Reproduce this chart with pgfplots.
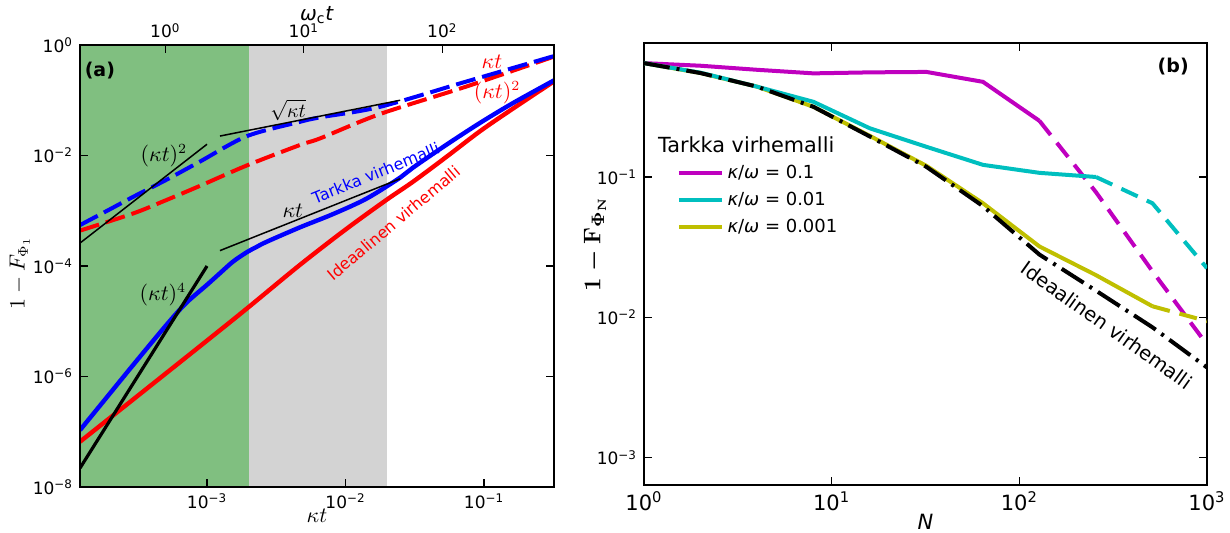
\documentclass[border=0pt]{standalone}
\usepackage{fontspec}
\setmainfont{DejaVu Sans}
\setsansfont{DejaVu Sans}
\usepackage{pgfplots}
\pgfplotsset{compat=1.18}

\definecolor{mpgreen}{RGB}{128,191,128}
\definecolor{mpgray}{RGB}{211,211,211}
\definecolor{mpmag}{RGB}{191,0,191}
\definecolor{mpcyan}{RGB}{0,191,191}
\definecolor{mpyel}{RGB}{191,191,0}

% matplotlib-like log tick labels, set in DejaVu Sans
\newcommand\logtick[1]{\pgfmathtruncatemacro\myexp{round(#1)}%
  \ifnum\myexp<0 10\textsuperscript{−\the\numexpr-\myexp\relax}\else 10\textsuperscript{\myexp}\fi}

\pgfplotsset{every axis/.append style={scale only axis,
    tick align=inside, axis line style={line width=0.7pt},
    major tick style={line width=0.6pt, black}, minor tick style={line width=0.5pt, black},
    major tick length=4pt, minor tick length=2pt,
    ticklabel style={font=\fontsize{8.5}{10}\selectfont},
    label style={font=\fontsize{10.5}{12}\selectfont}}}

\begin{document}
\begin{tikzpicture}
\useasboundingbox (0,0) rectangle (615pt,-266.5pt);

% ---------------- panel (a) ----------------
\begin{axis}[xmode=log, ymode=log, log basis x=10, log basis y=10,
  at={(40pt,-22.5pt)}, anchor=north west, width=237pt, height=221pt,
  xmin=1.21e-4, xmax=0.32, ymin=1e-8, ymax=1,
  xtick={1e-3,1e-2,1e-1}, ytick={1e-8,1e-6,1e-4,1e-2,1}, yminorticks=false,
  xticklabel={\logtick{\tick}}, yticklabel={\logtick{\tick}},
  xtick pos=left, xticklabel pos=left,
  xlabel={$\kappa t$}, ylabel={$1-F_{\Phi_1}$},
  xlabel style={at={(axis description cs:0.5,0)}, anchor=center, yshift=-14.5pt},
  ylabel style={at={(axis description cs:-0.127,0.484)}, anchor=center},
  axis on top]
\addplot[fill=mpgreen, draw=none, forget plot] coordinates {(1.21e-4,1e-8) (2e-3,1e-8) (2e-3,1) (1.21e-4,1)};
\addplot[fill=mpgray, draw=none, forget plot] coordinates {(2e-3,1e-8) (2e-2,1e-8) (2e-2,1) (2e-3,1)};
% dashed curves
\addplot[red, line width=2pt, dash pattern=on 10pt off 3.5pt, smooth] coordinates {
 (1.21e-4,4.37e-4) (2.92e-4,8.91e-4) (4.83e-4,1.48e-3) (8.89e-4,2.82e-3) (1.94e-3,6.61e-3)
 (4.69e-3,1.55e-2) (6.55e-3,2.04e-2) (1.77e-2,5.62e-2) (7.50e-2,0.178) (0.320,0.617)};
\addplot[blue, line width=2pt, dash pattern=on 10pt off 3.5pt, smooth] coordinates {
 (1.21e-4,5.50e-4) (2.0e-4,1.07e-3) (2.92e-4,1.78e-3) (5.0e-4,3.55e-3) (8.89e-4,7.76e-3)
 (1.94e-3,2.24e-2) (4.69e-3,4.07e-2) (6.55e-3,4.90e-2) (1.77e-2,7.59e-2) (7.50e-2,0.219) (0.320,0.631)};
% solid curves
\addplot[red, line width=2.2pt, smooth] coordinates {
 (1.21e-4,6.61e-8) (3.16e-4,4.47e-7) (1e-3,4.47e-6) (1.94e-3,1.70e-5) (4.69e-3,1.05e-4)
 (1e-2,4.57e-4) (1.98e-2,1.58e-3) (3.09e-2,3.39e-3) (5.38e-2,9.55e-3) (9.35e-2,2.75e-2)
 (0.162,7.08e-2) (0.320,0.220)};
\addplot[blue, line width=2.2pt, smooth] coordinates {
 (1.21e-4,1.07e-7) (2.0e-4,5.01e-7) (3.0e-4,1.74e-6) (5.0e-4,8.13e-6) (7.0e-4,2.09e-5)
 (1e-3,4.57e-5) (1.24e-3,7.41e-5) (1.54e-3,1.20e-4) (1.94e-3,1.78e-4) (2.26e-3,2.19e-4) (2.70e-3,2.75e-4)
 (4.69e-3,5.01e-4) (8.13e-3,8.71e-4) (1.42e-2,1.66e-3) (2.48e-2,3.98e-3) (3.07e-2,6.03e-3)
 (5.38e-2,1.58e-2) (9.35e-2,3.89e-2) (0.162,8.91e-2) (0.320,0.229)};
% asymptotes
\addplot[black, line width=0.75pt] coordinates {(1.21e-4,2.6e-4) (1e-3,1.6e-2)};
\addplot[black, line width=1.6pt] coordinates {(1.21e-4,2.2e-8) (1e-3,1.0e-4)};
\addplot[black, line width=0.75pt] coordinates {(1.24e-3,2.25e-2) (2.48e-2,1.0e-1)};
\addplot[black, line width=0.75pt] coordinates {(1.24e-3,1.9e-4) (2.48e-2,3.8e-3)};
% annotations
\node[font=\fontsize{9.5}{11}\selectfont\bfseries] at (rel axis cs:0.042,0.943) {(a)};
\node[font=\fontsize{10.5}{12}\selectfont] at (rel axis cs:0.177,0.750) {$(\kappa t)^2$};
\node[font=\fontsize{10.5}{12}\selectfont] at (rel axis cs:0.175,0.435) {$(\kappa t)^4$};
\node[font=\fontsize{10}{12}\selectfont] at (rel axis cs:0.439,0.853) {$\sqrt{\kappa t}$};
\node[font=\fontsize{10.5}{12}\selectfont] at (rel axis cs:0.449,0.626) {$\kappa t$};
\node[font=\fontsize{10.5}{12}\selectfont, text=red] at (rel axis cs:0.869,0.962) {$\kappa t$};
\node[font=\fontsize{10.5}{12}\selectfont, text=red] at (rel axis cs:0.880,0.893) {$(\kappa t)^2$};
\node[font=\fontsize{8}{10}\selectfont, text=blue, rotate=22] at (rel axis cs:0.624,0.710) {Tarkka virhemalli};
\node[font=\fontsize{8}{10}\selectfont, text=red, rotate=40] at (rel axis cs:0.662,0.597) {Ideaalinen virhemalli};
\end{axis}

% top axis in omega_c t
\begin{axis}[xmode=log, log basis x=10, at={(40pt,-22.5pt)}, anchor=north west, width=237pt, height=221pt,
  xmin=0.242, xmax=640, ymin=0, ymax=1,
  axis x line*=top, axis y line=none, tick align=inside,
  xtick={1,10,100}, xticklabel={\logtick{\tick}},
  xlabel={\textit{ω}\textsubscript{c}\textit{t}},
  xlabel style={at={(axis description cs:0.5,1)}, anchor=center, yshift=15pt, font=\fontsize{10}{12}\selectfont}]
\addplot[draw=none, forget plot] coordinates {(1,0.5) (10,0.5)};
\end{axis}

% ---------------- panel (b) ----------------
\begin{axis}[xmode=log, ymode=log, log basis x=10, log basis y=10,
  at={(322pt,-21.5pt)}, anchor=north west, width=281.5pt, height=221pt,
  xmin=1, xmax=1000, ymin=6.4e-4, ymax=0.9,
  xtick={1,10,100,1000}, ytick={1e-3,1e-2,1e-1}, yminorticks=false,
  xticklabel={\logtick{\tick}}, yticklabel={\logtick{\tick}},
  xticklabel style={font=\fontsize{10.5}{12}\selectfont},
  xlabel={\textit{N}},
  xlabel style={at={(axis description cs:0.5,0)}, anchor=center, yshift=-18.5pt},
  ylabel={$1-\mathbf{F}_{\mathbf{\Phi}_{\mathbf{N}}}$},
  ylabel style={at={(axis description cs:-0.087,0.545)}, anchor=center, font=\fontsize{12.5}{14}\selectfont\boldmath},
  legend cell align=left,
  legend image post style={xscale=1.25},
  legend style={draw=none, fill=none, at={(0.047,0.743)}, anchor=north west,
    font=\fontsize{9}{11}\selectfont, row sep=1.4pt}]
\addlegendimage{mpmag, line width=2pt}
\addlegendentry{\textit{κ}/\textit{ω} = 0.1}
\addlegendimage{mpcyan, line width=2pt}
\addlegendentry{\textit{κ}/\textit{ω} = 0.01}
\addlegendimage{mpyel, line width=2pt}
\addlegendentry{\textit{κ}/\textit{ω} = 0.001}
% kappa/omega = 0.1
\addplot[mpmag, line width=2pt, forget plot] coordinates {
 (1,0.647) (2,0.62) (4,0.58) (8,0.547) (16,0.556) (32,0.56) (64,0.476) (128,0.251)};
\addplot[mpmag, line width=2pt, dash pattern=on 9pt off 5pt, forget plot] coordinates {
 (128,0.251) (256,0.078) (512,0.0213) (1000,0.0064)};
% kappa/omega = 0.001
\addplot[mpyel, line width=2pt, forget plot] coordinates {
 (1,0.647) (2,0.55) (4,0.44) (8,0.316) (16,0.196) (32,0.12) (64,0.065) (128,0.032) (256,0.020) (512,0.012)};
\addplot[mpyel, line width=2pt, dash pattern=on 9pt off 5pt, forget plot] coordinates {
 (512,0.012) (1000,0.0094)};
% kappa/omega = 0.01
\addplot[mpcyan, line width=2pt, forget plot] coordinates {
 (1,0.647) (2,0.553) (4,0.44) (8,0.343) (16,0.222) (32,0.164) (64,0.122) (128,0.107) (256,0.1)};
\addplot[mpcyan, line width=2pt, dash pattern=on 9pt off 5pt, forget plot] coordinates {
 (256,0.1) (512,0.065) (1000,0.0224)};
% ideal error model
\addplot[black, line width=2pt, dash pattern=on 13pt off 3.5pt on 1.5pt off 3.5pt, forget plot] coordinates {
 (1,0.647) (2,0.55) (4,0.44) (8,0.316) (16,0.194) (32,0.118) (64,0.062) (128,0.028) (256,0.0155) (512,0.0085) (1000,0.0044)};
\node[anchor=west, font=\fontsize{10.4}{12}\selectfont] at (rel axis cs:0.0124,0.769) {Tarkka virhemalli};
\node[font=\fontsize{9.5}{11}\selectfont\bfseries] at (rel axis cs:0.940,0.946) {(b)};
\node[font=\fontsize{9.75}{12}\selectfont, rotate=-35.5] at (rel axis cs:0.822,0.362) {Ideaalinen virhemalli};
\end{axis}
\end{tikzpicture}
\end{document}
